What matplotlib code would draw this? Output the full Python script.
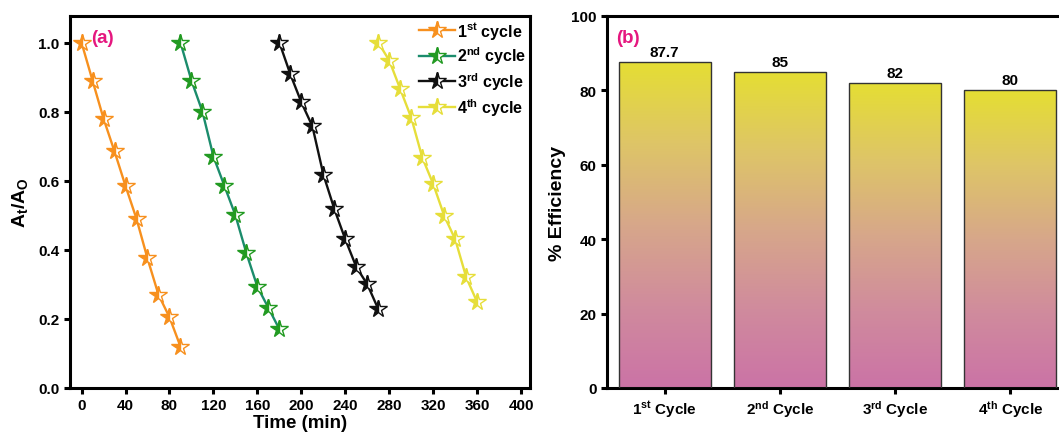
import numpy as np
import matplotlib
matplotlib.use("Agg")
import matplotlib.pyplot as plt
from matplotlib.colors import LinearSegmentedColormap
from matplotlib.patches import Rectangle

plt.rcParams["font.family"] = ["Liberation Sans", "DejaVu Sans"]
plt.rcParams["font.weight"] = "bold"
plt.rcParams["mathtext.fontset"] = "custom"
plt.rcParams["mathtext.rm"] = "Liberation Sans:bold"
plt.rcParams["mathtext.it"] = "Liberation Sans:bold"
plt.rcParams["mathtext.bf"] = "Liberation Sans:bold"
plt.rcParams["mathtext.default"] = "rm"

# panel (a): At/Ao vs time for four reuse cycles
time_c1 = [0, 10, 20, 30, 40, 50, 60, 70, 80, 90]
time_c2 = [90, 100, 110, 120, 130, 140, 150, 160, 170, 180]
time_c3 = [180, 190, 200, 210, 220, 230, 240, 250, 260, 270]
time_c4 = [270, 280, 290, 300, 310, 320, 330, 340, 350, 360]
ratio_c1 = [1.0, 0.89, 0.78, 0.685, 0.585, 0.49, 0.375, 0.27, 0.205, 0.12]
ratio_c2 = [1.0, 0.89, 0.80, 0.67, 0.585, 0.50, 0.39, 0.293, 0.232, 0.17]
ratio_c3 = [1.0, 0.908, 0.827, 0.758, 0.618, 0.518, 0.43, 0.35, 0.30, 0.228]
ratio_c4 = [1.0, 0.948, 0.865, 0.782, 0.667, 0.59, 0.498, 0.43, 0.32, 0.248]
cycle_labels = ["1$^{st}$ cycle", "2$^{nd}$ cycle", "3$^{rd}$ cycle", "4$^{th}$ cycle"]

# panel (b): efficiency per cycle
bar_labels = ["1$^{st}$ Cycle", "2$^{nd}$ Cycle", "3$^{rd}$ Cycle", "4$^{th}$ Cycle"]
efficiency = [87.7, 85, 82, 80]
value_text = ["87.7", "85", "82", "80"]

line_colors = ["#f7901e", "#1b8c6c", "#111111", "#e6de3a"]
marker_colors = ["#f7901e", "#229a22", "#111111", "#e6de3a"]

fig = plt.figure(figsize=(10.59, 4.39), dpi=100)
ax1 = fig.add_axes([0.0661, 0.1139, 0.4344, 0.8481])
ax2 = fig.add_axes([0.5732, 0.1139, 0.4353, 0.8474])

series = [(time_c1, ratio_c1), (time_c2, ratio_c2), (time_c3, ratio_c3), (time_c4, ratio_c4)]
for (t, r), lc, mc, lab in zip(series, line_colors, marker_colors, cycle_labels):
    ax1.plot(t, r, color=lc, lw=1.7, marker="*", markersize=13, fillstyle="left",
             markerfacecolor=mc, markerfacecoloralt="white", markeredgecolor=mc,
             markeredgewidth=1.0, label=lab)

ax1.set_xlim(-10.5, 408)
ax1.set_ylim(0, 1.078)
ax1.set_xticks(np.arange(0, 401, 40))
ax1.set_yticks(np.arange(0, 1.01, 0.2))
ax1.set_xlabel("Time (min)", fontsize=13.5, fontweight="bold", labelpad=1)
ax1.set_ylabel("A$_{t}$/A$_{O}$", fontsize=14, fontweight="bold", labelpad=6)
ax1.text(0.045, 0.965, "(a)", transform=ax1.transAxes, color="#e5177f",
         fontsize=13.5, fontweight="bold", va="top")
ax1.legend(loc="upper right", frameon=False, fontsize=11.5, handlelength=2.3,
           handletextpad=0.1, labelspacing=0.25, borderaxespad=0.15,
           borderpad=0.1)

# gradient-filled bars
grad_cmap = LinearSegmentedColormap.from_list(
    "grad", ["#cb73a6", "#d08b9d", "#d7a78a", "#dec567", "#e5de33"])
xpos = np.arange(len(efficiency))
bars = ax2.bar(xpos, efficiency, width=0.8, facecolor="none",
               edgecolor="#333333", linewidth=1.0, zorder=3)
grad = np.linspace(0, 1, 256).reshape(-1, 1)
for b in bars:
    x0, w, h = b.get_x(), b.get_width(), b.get_height()
    im = ax2.imshow(grad, cmap=grad_cmap, origin="lower", aspect="auto",
                    extent=[x0, x0 + w, 0, h], zorder=2)
    clip = Rectangle((x0, 0), w, h, transform=ax2.transData)
    im.set_clip_path(clip)
for xi, v, txt in zip(xpos, efficiency, value_text):
    ax2.text(xi, v + 0.8, txt, ha="center", va="bottom", fontsize=11, fontweight="bold")

ax2.set_xlim(-0.5, 3.5)
ax2.set_ylim(0, 100)
ax2.set_xticks(xpos)
ax2.set_xticklabels(bar_labels)
ax2.set_yticks(np.arange(0, 101, 20))
ax2.set_ylabel("% Efficiency", fontsize=14, fontweight="bold", labelpad=4)
ax2.text(0.02, 0.965, "(b)", transform=ax2.transAxes, color="#e5177f",
         fontsize=13.5, fontweight="bold", va="top")

for ax in (ax1, ax2):
    for s in ax.spines.values():
        s.set_linewidth(2.2)
    ax.tick_params(axis="both", direction="out", length=4.5, width=2.2,
                   labelsize=11, pad=3)
    for lbl in ax.get_xticklabels() + ax.get_yticklabels():
        lbl.set_fontweight("bold")

fig.savefig("out.png", dpi=100)
